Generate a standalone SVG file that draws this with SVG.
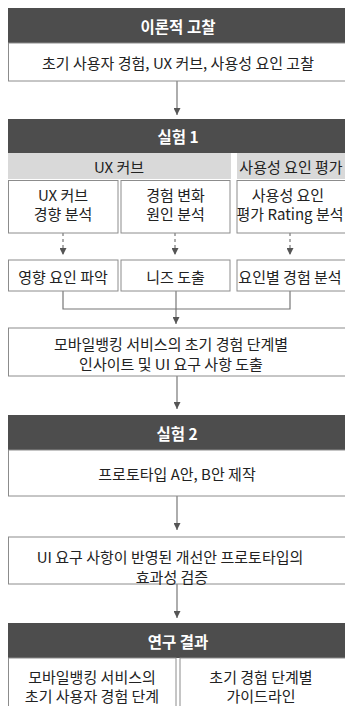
<svg xmlns="http://www.w3.org/2000/svg" width="345" height="706" viewBox="0 0 345 706">
<style>
.hd{fill:#4d4d4d}
.bx{fill:#fff;stroke:#8c8c8c;stroke-width:1}
.band{fill:#d9d9d9}
.ht{font-family:"Noto Sans CJK KR","Noto Sans",sans-serif;font-size:15.5px;font-weight:bold;fill:#fff;text-anchor:middle;dominant-baseline:central}
.t{font-family:"Noto Sans CJK KR","Noto Sans",sans-serif;font-size:15px;fill:#222;text-anchor:middle;dominant-baseline:central}
.ln{stroke:#777;stroke-width:1.2;fill:none}
.dl{stroke:#777;stroke-width:1.2;fill:none;stroke-dasharray:3 3}
</style>
<defs>
<marker id="ah" viewBox="0 0 10 10" refX="10" refY="5" markerWidth="7" markerHeight="7" markerUnits="userSpaceOnUse" orient="auto">
<path d="M0,0 L10,5 L0,10 z" fill="#555"/>
</marker>
</defs>
<rect width="345" height="706" fill="#fff"/>
<g id="connectors">
<line class="ln" x1="177" y1="81" x2="177" y2="115" marker-end="url(#ah)"/>
<line class="dl" x1="63" y1="233" x2="63" y2="255" marker-end="url(#ah)"/>
<line class="dl" x1="175" y1="233" x2="175" y2="255" marker-end="url(#ah)"/>
<line class="dl" x1="290" y1="233" x2="290" y2="255" marker-end="url(#ah)"/>
<path class="ln" d="M63,291 V309 H290 V291"/>
<line class="ln" x1="176" y1="291" x2="176" y2="324" marker-end="url(#ah)"/>
<line class="ln" x1="177" y1="376" x2="177" y2="409" marker-end="url(#ah)"/>
<line class="ln" x1="177" y1="496" x2="177" y2="530" marker-end="url(#ah)"/>
<line class="ln" x1="177" y1="584" x2="177" y2="618" marker-end="url(#ah)"/>
</g>
<g id="theory">
<rect class="hd" x="8" y="8" width="340" height="35"/>
<text class="ht" x="178" y="25.5">이론적 고찰</text>
</g>
<g id="theory-body">
<rect class="bx" x="8.5" y="43" width="340" height="38"/>
<text class="t" x="178" y="62">초기 사용자 경험, UX 커브, 사용성 요인 고찰</text>
</g>
<g id="exp1">
<rect class="hd" x="8" y="119" width="340" height="34"/>
<text class="ht" x="178" y="136">실험 1</text>
</g>
<g id="band-ux">
<rect class="band" x="8" y="153" width="223" height="26"/>
<text class="t" x="119" y="166">UX 커브</text>
</g>
<g id="band-usability">
<rect class="band" x="237" y="153" width="111" height="26"/>
<text class="t" x="291" y="166">사용성 요인 평가</text>
</g>
<g id="ux-trend">
<rect class="bx" x="8.5" y="180.5" width="109.5" height="52.5"/>
<text class="t" x="63" y="194">UX 커브</text>
<text class="t" x="63" y="213">경향 분석</text>
</g>
<g id="exp-change">
<rect class="bx" x="121" y="180.5" width="109" height="52.5"/>
<text class="t" x="175.5" y="194">경험 변화</text>
<text class="t" x="175.5" y="213">원인 분석</text>
</g>
<g id="rating">
<rect class="bx" x="237" y="180.5" width="111" height="52.5"/>
<text class="t" x="288" y="194">사용성 요인</text>
<text class="t" x="290" y="213">평가 Rating 분석</text>
</g>
<g id="factor">
<rect class="bx" x="8.5" y="260" width="109.5" height="31"/>
<text class="t" x="63" y="276">영향 요인 파악</text>
</g>
<g id="needs">
<rect class="bx" x="121" y="260" width="109" height="31"/>
<text class="t" x="175.5" y="276">니즈 도출</text>
</g>
<g id="factor-exp">
<rect class="bx" x="237" y="260" width="111" height="31"/>
<text class="t" x="290" y="276">요인별 경험 분석</text>
</g>
<g id="insight">
<rect class="bx" x="8.5" y="328" width="340" height="48"/>
<text class="t" x="171" y="343">모바일뱅킹 서비스의 초기 경험 단계별</text>
<text class="t" x="171" y="363">인사이트 및 UI 요구 사항 도출</text>
</g>
<g id="exp2">
<rect class="hd" x="8" y="415" width="340" height="35"/>
<text class="ht" x="177" y="433">실험 2</text>
</g>
<g id="prototype">
<rect class="bx" x="8.5" y="450" width="340" height="46"/>
<text class="t" x="177" y="473">프로토타입 A안, B안 제작</text>
</g>
<g id="verify">
<rect class="bx" x="8.5" y="537" width="340" height="47"/>
<text class="t" x="170" y="556">UI 요구 사항이 반영된 개선안 프로토타입의</text>
<text class="t" x="172" y="576">효과성 검증</text>
</g>
<g id="result">
<rect class="hd" x="8" y="623" width="340" height="35"/>
<text class="ht" x="178" y="641">연구 결과</text>
</g>
<g id="result-stage">
<rect class="bx" x="8.5" y="658" width="167.5" height="60"/>
<text class="t" x="92" y="676">모바일뱅킹 서비스의</text>
<text class="t" x="92" y="695">초기 사용자 경험 단계</text>
</g>
<g id="result-guide">
<rect class="bx" x="180" y="658" width="168" height="60"/>
<text class="t" x="261" y="676">초기 경험 단계별</text>
<text class="t" x="261" y="695">가이드라인</text>
</g>
</svg>
